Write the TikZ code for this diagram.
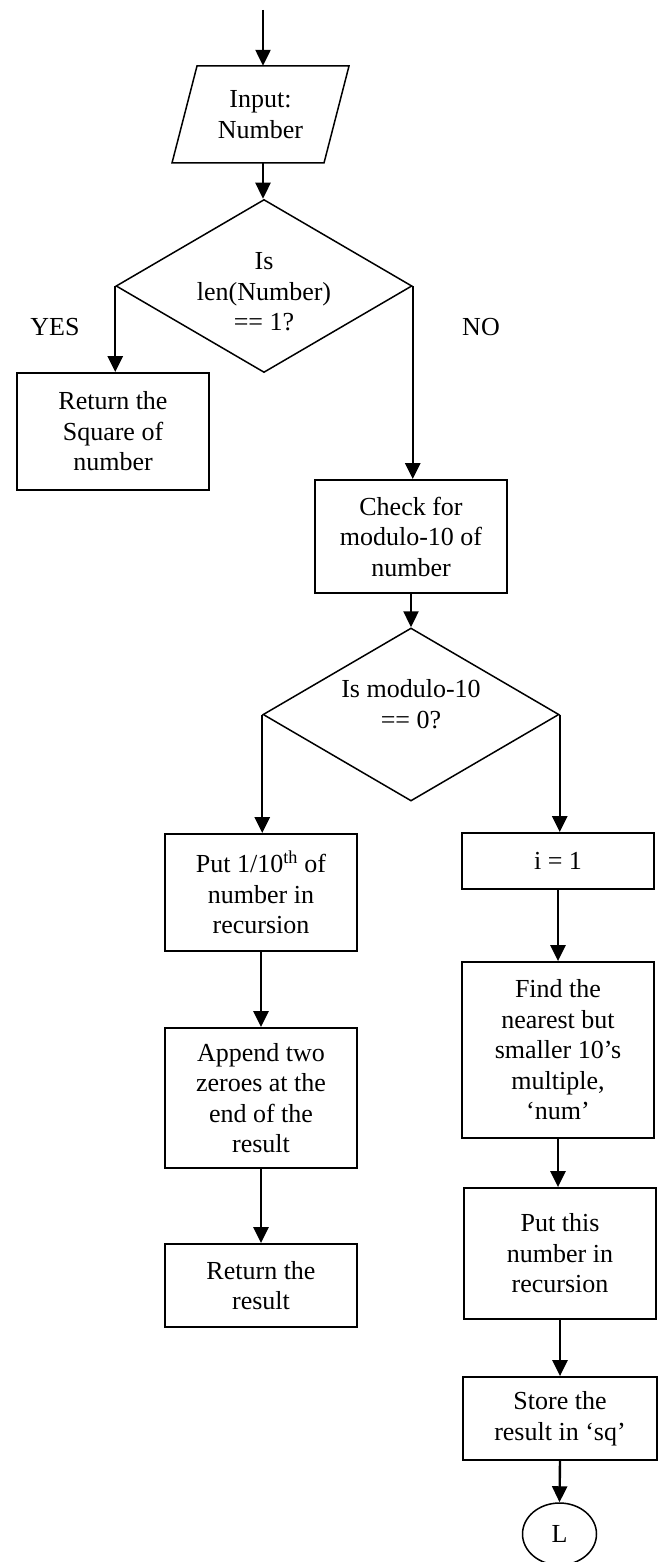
\documentclass[tikz,border=0pt]{standalone}
\usepackage{fontspec}
\setmainfont{Liberation Serif}
\usetikzlibrary{shapes.geometric,arrows.meta}
\begin{document}
\begin{tikzpicture}[x=1pt,y=-1pt,
  every node/.style={font=\fontsize{26}{30.5}\selectfont},
  proc/.style={draw, line width=1.8pt, align=center, inner sep=0pt, minimum width=192pt},
  decision/.style={draw, shape=diamond, line width=1.5pt, inner sep=0pt, minimum width=296pt, minimum height=173pt},
  lbl/.style={align=center, inner sep=0pt},
  arr/.style={line width=2.4pt, -{Triangle[width=15pt,length=16pt]}}]
\useasboundingbox (0,0) rectangle (660,1562);

\coordinate (start) at (263,10);
\node[lbl, minimum width=152pt, minimum height=97pt] (inp) at (260.5,114.5) {Input:\\Number};
\draw[line width=1.5pt] (197,66) -- (349,66) -- (324,163) -- (172,163) -- cycle;
\draw[arr] (start) -- (start |- inp.north);

\node[decision] (d1) at (264,286) {};
\draw[arr] (start |- inp.south) -- (start |- d1.north);
\node[lbl] (d1t) at (264,292) {Is\\len(Number)\\== 1?};
\node[lbl] (yes) at (55,327) {YES};
\node[lbl] (no) at (481,327) {NO};

\node[proc, minimum height=117pt] (ret1) at (113,431.5) {Return the\\Square of\\number};
\draw[arr] (d1.west) -- (d1.west |- ret1.north);

\node[proc, minimum height=113pt] (chk) at (411,536.5) {Check for\\modulo-10 of\\number};
\draw[arr] (d1.east) -- (d1.east |- chk.north);

\node[decision] (d2) at (411,714.5) {};
\draw[arr] (chk.south) -- (d2.north);
\node[lbl] (d2t) at (411,704) {Is modulo-10\\== 0?};

\node[proc, minimum height=117pt] (p10) at (261,892.5) {Put 1/10\textsuperscript{th} of\\number in\\recursion};
\draw[arr] (d2.west) -- (d2.west |- p10.north);

\node[proc, minimum height=56pt] (i1) at (558,861) {i = 1};
\draw[arr] (d2.east) -- (d2.east |- i1.north);

\node[proc, minimum height=140pt] (app) at (261,1098) {Append two\\zeroes at the\\end of the\\result};
\draw[arr] (p10.south) -- (app.north);

\node[proc, minimum height=83pt] (ret2) at (261,1285.5) {Return the\\result};
\draw[arr] (app.south) -- (ret2.north);

\node[proc, minimum height=176pt] (find) at (558,1050) {Find the\\nearest but\\smaller 10’s\\multiple,\\‘num’};
\draw[arr] (i1.south) -- (find.north);

\node[proc, minimum height=131pt] (pt) at (560,1253.5) {Put this\\number in\\recursion};
\draw[arr] (find.south) -- (find.south |- pt.north);

\node[proc, minimum width=194pt, minimum height=83pt] (st) at (560,1418.5) {Store the\\result in ‘sq’};
\draw[arr] (pt.south) -- (st.north);

\node[draw, ellipse, line width=1.5pt, minimum width=74pt, minimum height=62pt, inner sep=0pt] (L) at (559.5,1534) {L};
\draw[arr] (st.south) -- (L.north);
\end{tikzpicture}
\end{document}
